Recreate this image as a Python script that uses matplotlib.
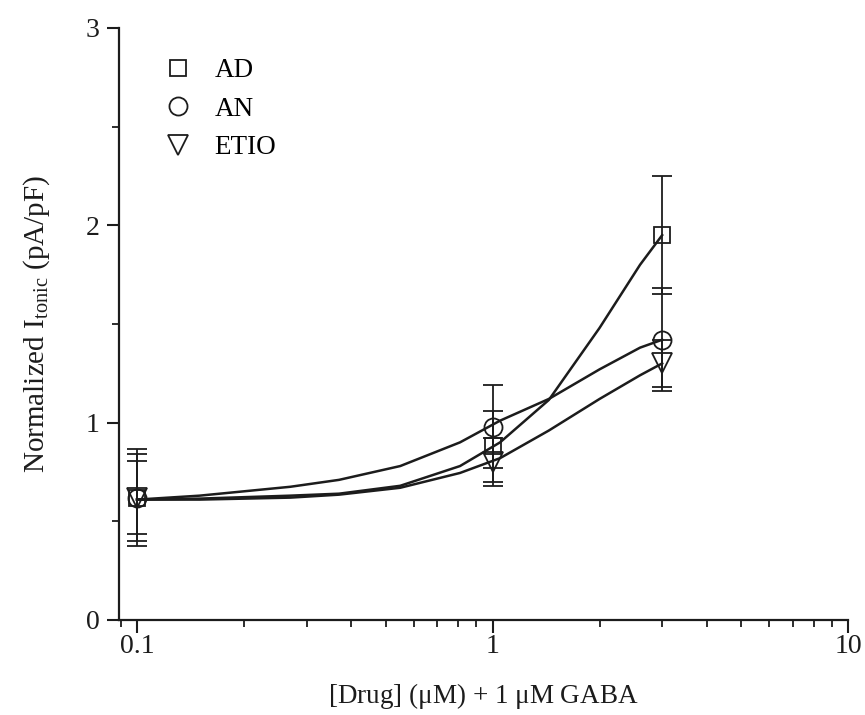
import matplotlib
matplotlib.use('Agg')
import matplotlib.pyplot as plt
from matplotlib.ticker import MultipleLocator, LogLocator, NullFormatter, FixedLocator, FixedFormatter

plt.rcParams['font.family'] = ['Liberation Serif', 'DejaVu Serif']
plt.rcParams['mathtext.fontset'] = 'custom'
plt.rcParams['mathtext.rm'] = 'Liberation Serif'

# measured points
conc = [0.1, 1.0, 3.0]
ad_mean = [0.62, 0.88, 1.95]
ad_err = [0.22, 0.18, 0.30]
an_mean = [0.62, 0.98, 1.42]
an_err = [0.185, 0.21, 0.26]
etio_mean = [0.62, 0.80, 1.30]
etio_err = [0.245, 0.12, 0.12]

# fitted curves
fit_x = [0.1, 0.15, 0.27, 0.37, 0.55, 0.81, 1.05, 1.44, 2.0, 2.6, 3.0]
ad_fit = [0.61, 0.615, 0.63, 0.64, 0.68, 0.78, 0.90, 1.115, 1.48, 1.80, 1.95]
an_fit = [0.61, 0.63, 0.675, 0.71, 0.78, 0.90, 1.01, 1.12, 1.27, 1.38, 1.42]
etio_fit = [0.61, 0.61, 0.62, 0.635, 0.67, 0.745, 0.82, 0.96, 1.12, 1.24, 1.30]

names = ['AD', 'AN', 'ETIO']
markers = ['s', 'o', 'v']
msizes = [11, 13, 14]
col = '#1c1c1c'

fig = plt.figure(figsize=(8.65, 7.15), dpi=100)
ax = fig.add_axes([0.1376, 0.1329, 0.8428, 0.8280])

for fx, fy in [(fit_x, ad_fit), (fit_x, an_fit), (fit_x, etio_fit)]:
    ax.plot(fx, fy, color=col, lw=1.8, zorder=2)

series = [(ad_mean, ad_err), (an_mean, an_err), (etio_mean, etio_err)]
for i, (m, e) in enumerate(series):
    ax.errorbar(conc, m, yerr=e, fmt='none', ecolor=col, elinewidth=1.3,
                capsize=7, capthick=1.3, zorder=3)
    ax.plot(conc, m, linestyle='none', marker=markers[i], markersize=msizes[i],
            markerfacecolor='none', markeredgecolor=col, markeredgewidth=1.3,
            label=names[i], zorder=4)

ax.set_xscale('log')
ax.set_xlim(0.089, 10)
ax.set_ylim(0, 3)

ax.xaxis.set_major_locator(FixedLocator([0.1, 1, 10]))
ax.xaxis.set_major_formatter(FixedFormatter(['0.1', '1', '10']))
ax.xaxis.set_minor_locator(LogLocator(base=10, subs=range(2, 10)))
ax.xaxis.set_minor_formatter(NullFormatter())
ax.yaxis.set_major_locator(MultipleLocator(1))
ax.yaxis.set_minor_locator(MultipleLocator(0.5))

for s in ['top', 'right']:
    ax.spines[s].set_visible(False)
for s in ['left', 'bottom']:
    ax.spines[s].set_linewidth(1.6)
    ax.spines[s].set_color(col)

ax.tick_params(which='major', direction='out', length=9, width=1.5, labelsize=20,
               colors=col)
ax.tick_params(axis='x', which='major', pad=1)
ax.tick_params(axis='y', which='major', pad=5)
ax.tick_params(which='minor', direction='out', length=5, width=1.3, colors=col)

ax.set_xlabel(r'[Drug] ($\mathrm{\mu}$M) + 1 $\mathrm{\mu}$M GABA', fontsize=19.5,
              labelpad=16, color=col)
ax.set_ylabel(r'Normalized I$_{\mathrm{tonic}}$ (pA/pF)', fontsize=21,
              labelpad=24, color=col)

ax.legend(loc='upper left', bbox_to_anchor=(0.025, 0.99), frameon=False,
          fontsize=19.5, handletextpad=0.75, labelspacing=0.5, markerscale=1.0,
          handlelength=1.2)

fig.savefig('out.png', dpi=100)
